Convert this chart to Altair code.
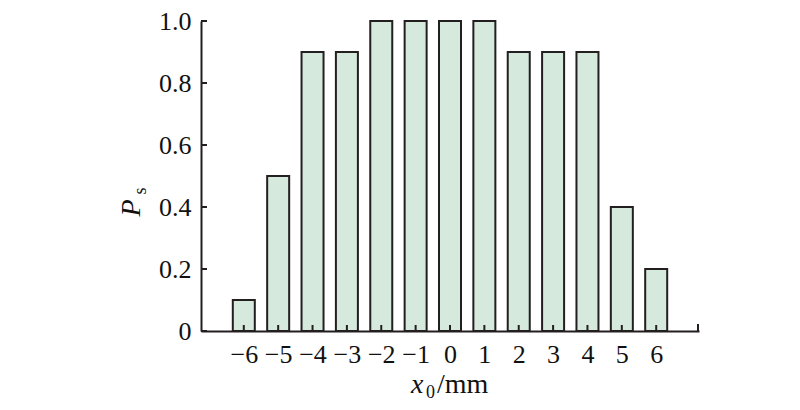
import altair as alt
import pandas as pd

x0 = [-6, -5, -4, -3, -2, -1, 0, 1, 2, 3, 4, 5, 6]
ps = [0.1, 0.5, 0.9, 0.9, 1.0, 1.0, 1.0, 1.0, 0.9, 0.9, 0.9, 0.4, 0.2]
y_ticks = [0, 0.2, 0.4, 0.6, 0.8, 1.0]
x_ticks = [-6, -5, -4, -3, -2, -1, 0, 1, 2, 3, 4, 5, 6]

FONT = "Liberation Serif"
INK = "#231f20"
W, H = 498, 310

df = pd.DataFrame({"x0": x0, "ps": ps})
xs = alt.Scale(domain=[-7.1, 7.1], nice=False, zero=False)
ys = alt.Scale(domain=[0, 1], nice=False)

bars = alt.Chart(df).mark_bar(size=22, fill="#d5e9dd", stroke=INK, strokeWidth=2).encode(
    x=alt.X("x0:Q", scale=xs, axis=alt.Axis(
        values=x_ticks, title=None, ticks=False, grid=False,
        domainColor=INK, domainWidth=2,
        labelFont=FONT, labelFontSize=26, labelColor="#111", labelPadding=10,
        labelExpr="replace(format(datum.value, 'd'), '-', '\u2212')")),
    y=alt.Y("ps:Q", scale=ys, axis=alt.Axis(
        values=y_ticks, title=None, ticks=False, grid=False,
        domainColor=INK, domainWidth=2,
        labelFont=FONT, labelFontSize=26, labelColor="#111", labelPadding=10,
        labelExpr="datum.value == 0 ? '0' : format(datum.value, '.1f')")),
)

ytick = alt.Chart(pd.DataFrame({"v": y_ticks})).mark_rule(color=INK, strokeWidth=2).encode(
    y=alt.Y("v:Q", scale=ys), x=alt.value(0), x2=alt.value(6))
xtick = alt.Chart(pd.DataFrame({"v": x_ticks})).mark_rule(color=INK, strokeWidth=2).encode(
    x=alt.X("v:Q", scale=xs), y=alt.value(H), y2=alt.value(H - 6))
endtick = alt.Chart(pd.DataFrame({"v": [0]})).mark_rule(color=INK, strokeWidth=2).encode(
    x=alt.value(W - 1), y=alt.value(H), y2=alt.value(H - 7))

t_x = alt.Chart(pd.DataFrame({"t": ["x"]})).mark_text(
    font=FONT, fontSize=28, fontStyle="italic", align="left", baseline="alphabetic", color="#111"
).encode(text="t:N", x=alt.value(210), y=alt.value(372))
t_0 = alt.Chart(pd.DataFrame({"t": ["0"]})).mark_text(
    font=FONT, fontSize=18, align="left", baseline="alphabetic", color="#111"
).encode(text="t:N", x=alt.value(225), y=alt.value(377))
t_mm = alt.Chart(pd.DataFrame({"t": ["/mm"]})).mark_text(
    font=FONT, fontSize=28, align="left", baseline="alphabetic", color="#111"
).encode(text="t:N", x=alt.value(236), y=alt.value(372))

t_P = alt.Chart(pd.DataFrame({"t": ["P"]})).mark_text(
    font=FONT, fontSize=28, fontStyle="italic", align="center", baseline="alphabetic",
    angle=270, color="#111"
).encode(text="t:N", x=alt.value(-61), y=alt.value(187))
t_s = alt.Chart(pd.DataFrame({"t": ["s"]})).mark_text(
    font=FONT, fontSize=18, align="center", baseline="alphabetic",
    angle=270, color="#111"
).encode(text="t:N", x=alt.value(-55), y=alt.value(170))

chart = alt.layer(bars, ytick, xtick, endtick, t_x, t_0, t_mm, t_P, t_s).properties(
    width=W, height=H,
    autosize=alt.AutoSizeParams(type="none"),
    padding={"left": 193, "top": 13, "right": 80, "bottom": 70},
    background="white",
).configure_view(stroke=None)

chart.save("out.html", embed_options={"renderer": "svg", "actions": False})
